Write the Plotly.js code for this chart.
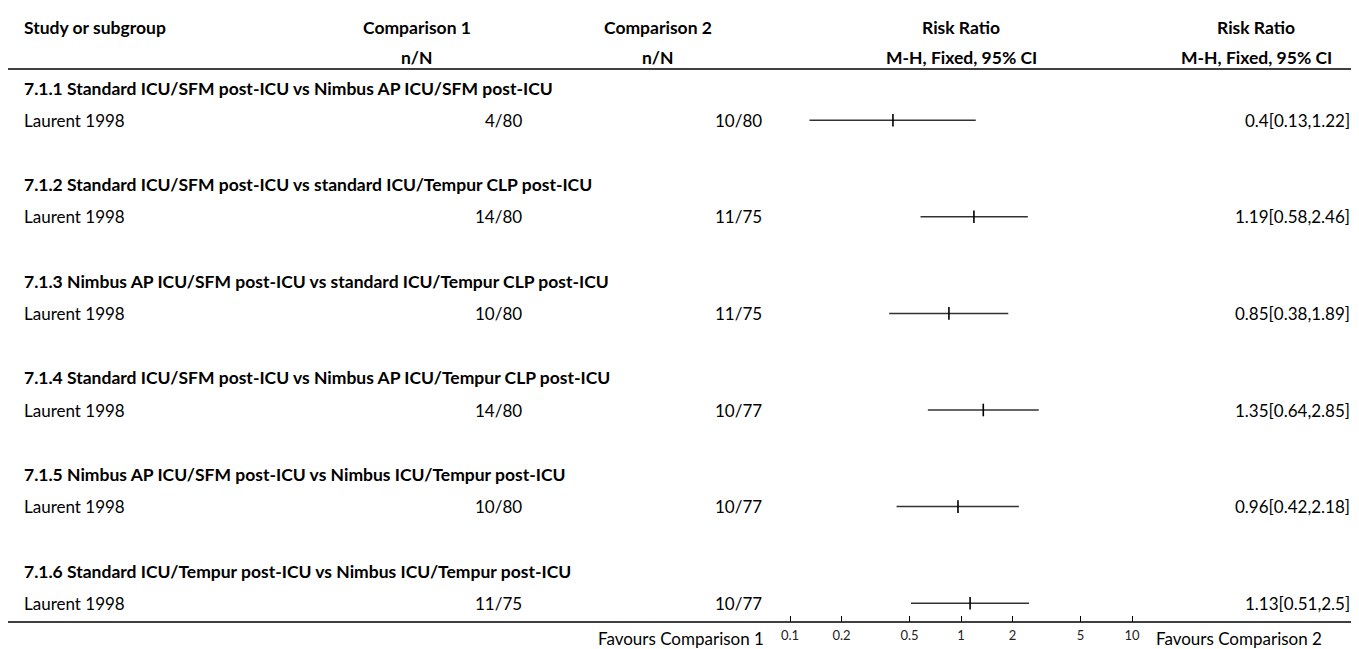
<!DOCTYPE html>
<html>
<head>
<meta charset="utf-8">
<script src="https://cdn.plot.ly/plotly-3.0.1.min.js"></script>
<style>html,body{margin:0;padding:0;background:#fff;}#chart{width:1359px;height:649px;}</style>
</head>
<body>
<div id="chart"></div>
<script>
// ---- data ----
const subgroups = [
  "7.1.1 Standard ICU/SFM post-ICU vs Nimbus AP ICU/SFM post-ICU",
  "7.1.2 Standard ICU/SFM post-ICU vs standard ICU/Tempur CLP post-ICU",
  "7.1.3 Nimbus AP ICU/SFM post-ICU vs standard ICU/Tempur CLP post-ICU",
  "7.1.4 Standard ICU/SFM post-ICU vs Nimbus AP ICU/Tempur CLP post-ICU",
  "7.1.5 Nimbus AP ICU/SFM post-ICU vs Nimbus ICU/Tempur post-ICU",
  "7.1.6 Standard ICU/Tempur post-ICU vs Nimbus ICU/Tempur post-ICU"
];
const studies = ["Laurent 1998","Laurent 1998","Laurent 1998","Laurent 1998","Laurent 1998","Laurent 1998"];
const events1 = [4, 14, 10, 14, 10, 11];
const total1  = [80, 80, 80, 80, 80, 75];
const events2 = [10, 11, 11, 10, 10, 10];
const total2  = [80, 75, 75, 77, 77, 77];
const rr      = [0.4, 1.19, 0.85, 1.35, 0.96, 1.13];
const ciLow   = [0.13, 0.58, 0.38, 0.64, 0.42, 0.51];
const ciHigh  = [1.22, 2.46, 1.89, 2.85, 2.18, 2.5];
const tickVals = [0.1, 0.2, 0.5, 1, 2, 5, 10];
const tickText = ["0.1","0.2","0.5","1","2","5","10"];
const favLeft = "Favours Comparison 1";
const favRight = "Favours Comparison 2";

// ---- layout constants ----
const W = 1359, H = 649;
const FONT = "Source Sans Pro, Lato, sans-serif";
const FS = 17, FSB = 17.5;
const row0 = 88, rowH = 32.2;          // pixel centre of first row, row pitch
const axisPix = 622;                    // bottom axis line
const xOne = 961, decade = 171;         // pixel of RR=1, pixels per decade
const px = p => p / W;                  // pixel -> paper x
const xLo = -1.1, xHi = 1.1;
const domL = (xOne + decade * xLo) / W, domR = (xOne + decade * xHi) / W;
const yTop = -row0 / rowH;              // row units at pixel 0
const yBot = (axisPix - row0) / rowH;   // row units at axis line
const yDomBottom = (H - axisPix) / H;

const traces = [];
const annotations = [];
const shapes = [];

function txt(x, y, text, align, bold) {
  annotations.push({
    xref: 'paper', yref: 'y', x: px(x), y: y, text: bold ? '<b>' + text + '</b>' : text,
    showarrow: false, xanchor: align, yanchor: 'middle',
    font: {family: FONT, size: bold ? FSB : FS, color: '#000'}
  });
}

// headers
const hdr1 = -1.89, hdr2 = -0.96;
txt(22, hdr1, "Study or subgroup", 'left', true);
txt(417, hdr1, "Comparison 1", 'center', true);
txt(417, hdr2, "n/N", 'center', true);
txt(658, hdr1, "Comparison 2", 'center', true);
txt(658, hdr2, "n/N", 'center', true);
txt(961, hdr1, "Risk Ratio", 'center', true);
txt(961, hdr2, "M-H, Fixed, 95% CI", 'center', true);
txt(1256, hdr1, "Risk Ratio", 'center', true);
txt(1256, hdr2, "M-H, Fixed, 95% CI", 'center', true);

// rows
subgroups.forEach((g, k) => {
  const gy = 3 * k, sy = 3 * k + 1;
  txt(22, gy, g, 'left', true);
  txt(22, sy, studies[k], 'left', false);
  txt(524, sy, events1[k] + "/" + total1[k], 'right', false);
  txt(764, sy, events2[k] + "/" + total2[k], 'right', false);
  txt(1352, sy, rr[k] + "[" + ciLow[k] + "," + ciHigh[k] + "]", 'right', false);
  traces.push({
    x: [ciLow[k], ciHigh[k]], y: [sy, sy], mode: 'lines', type: 'scatter',
    line: {color: '#333', width: 1.5}, hoverinfo: 'skip', showlegend: false
  });
  traces.push({
    x: [rr[k]], y: [sy], mode: 'markers', type: 'scatter',
    marker: {symbol: 'line-ns-open', size: 9, color: '#000', line: {color: '#000', width: 1.6}},
    hoverinfo: 'skip', showlegend: false
  });
});

// reference line at RR = 1
shapes.push({type: 'line', xref: 'x', yref: 'y', x0: 0, x1: 0, y0: -0.59, y1: yBot,
  line: {color: '#999', width: 1.2}, layer: 'below'});
// header rule
shapes.push({type: 'line', xref: 'paper', yref: 'y', x0: px(8), x1: px(1351), y0: -0.59, y1: -0.59,
  line: {color: '#000', width: 1.6}});
// bottom rule / axis line
shapes.push({type: 'line', xref: 'paper', yref: 'paper', x0: px(8), x1: px(1351), y0: yDomBottom, y1: yDomBottom,
  line: {color: '#000', width: 1.6}});

// favours labels
annotations.push({xref: 'paper', yref: 'paper', x: px(766), y: (H - 638) / H, text: favLeft,
  showarrow: false, xanchor: 'right', yanchor: 'middle', font: {family: FONT, size: FS, color: '#000'}});
annotations.push({xref: 'paper', yref: 'paper', x: px(1154), y: (H - 638) / H, text: favRight,
  showarrow: false, xanchor: 'left', yanchor: 'middle', font: {family: FONT, size: FS, color: '#000'}});

const layout = {
  width: W, height: H,
  margin: {l: 0, r: 0, t: 0, b: 0, pad: 0},
  paper_bgcolor: '#fff', plot_bgcolor: 'rgba(0,0,0,0)',
  showlegend: false,
  xaxis: {
    type: 'log', range: [xLo, xHi], domain: [domL, domR],
    tickvals: tickVals, ticktext: tickText,
    ticks: 'inside', ticklen: 6, tickwidth: 1, tickcolor: '#000',
    ticklabelstandoff: 4,
    showgrid: false, zeroline: false, showline: false,
    tickfont: {family: FONT, size: 13, color: '#222'},
    fixedrange: true
  },
  yaxis: {
    range: [yBot, yTop], domain: [yDomBottom, 1],
    showgrid: false, zeroline: false, showline: false, showticklabels: false, ticks: '',
    fixedrange: true
  },
  annotations: annotations,
  shapes: shapes
};

Plotly.newPlot('chart', traces, layout, {staticPlot: true, displayModeBar: false});
</script>
</body>
</html>
